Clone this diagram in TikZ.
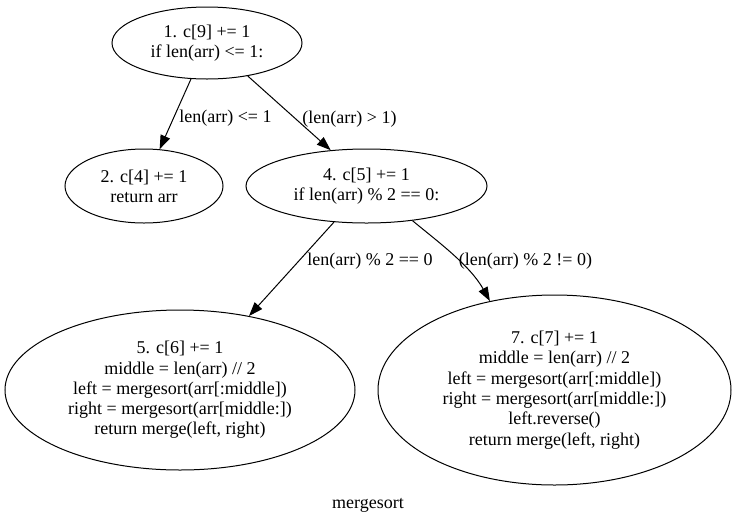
\documentclass[tikz,border=0pt]{standalone}
\usepackage{fontspec}
\setmainfont{Liberation Serif}
\usetikzlibrary{shapes.geometric,arrows.meta}

\tikzset{
  gvtext/.style={font=\fontsize{18pt}{20.3pt}\selectfont},
  stmt/.style={ellipse, draw, line width=1pt, inner sep=0pt, align=center, gvtext},
  edgelabel/.style={anchor=base, inner sep=0pt, gvtext},
  flow/.style={line width=1pt, -{Triangle[length=14pt,width=10pt]}}
}

\begin{document}
\begin{tikzpicture}[x=1pt,y=-1pt]
  \fill[white] (0,0) rectangle (734,523);
  \useasboundingbox (0,0) rectangle (734,523);

  % statement blocks
  \node[stmt, minimum width=190pt, minimum height=72pt] (n1) at (207,43)
    {1. c[9] += 1\\if len(arr) <= 1:};
  \node[stmt, minimum width=158pt, minimum height=74pt] (n2) at (144,186)
    {2. c[4] += 1\\return arr};
  \node[stmt, minimum width=241pt, minimum height=74pt] (n4) at (366.5,186)
    {4. c[5] += 1\\if len(arr) \% 2 == 0:};
  \node[stmt, minimum width=350pt, minimum height=160pt] (n5) at (180,390)
    {5. c[6] += 1\\middle = len(arr) // 2\\left = mergesort(arr[:middle])\\right = mergesort(arr[middle:])\\return merge(left, right)};
  \node[stmt, minimum width=353pt, minimum height=190pt] (n7) at (554.5,390)
    {7. c[7] += 1\\middle = len(arr) // 2\\left = mergesort(arr[:middle])\\right = mergesort(arr[middle:])\\left.reverse()\\return merge(left, right)};

  % control flow
  \draw[flow] (n1.246) -- (n2.67);
  \draw[flow] (n1.-39.5) -- (n4.135.4);
  \draw[flow] (n4.228) -- (n5.47);
  \draw[flow] (n4.-37.5) .. controls +(24,20) and +(-20,-36) .. (n7.126);

  % branch conditions
  \node[edgelabel] (l12) at (225.5,122) {len(arr) <= 1};
  \node[edgelabel] (l14) at (349.5,123) {(len(arr) > 1)};
  \node[edgelabel] (l45) at (370,265) {len(arr) \% 2 == 0};
  \node[edgelabel] (l47) at (525.5,265) {(len(arr) \% 2 != 0)};

  % graph title
  \node[edgelabel] (title) at (368,508) {mergesort};
\end{tikzpicture}
\end{document}
